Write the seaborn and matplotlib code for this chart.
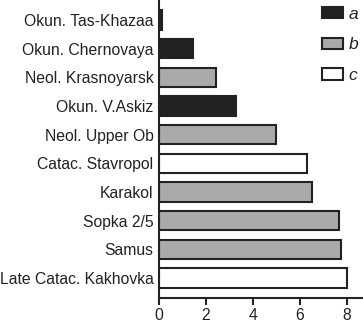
import pandas as pd
import matplotlib
matplotlib.use("Agg")
import matplotlib.pyplot as plt
import seaborn as sns
from matplotlib.patches import Patch

sites = ['Okun. Tas-Khazaa', 'Okun. Chernovaya', 'Neol. Krasnoyarsk',
         'Okun. V.Askiz', 'Neol. Upper Ob', 'Catac. Stavropol',
         'Karakol', 'Sopka 2/5', 'Samus', 'Late Catac. Kakhovka']
values = [0.13, 1.43, 2.42, 3.28, 5.0, 6.31, 6.5, 7.69, 7.77, 8.0]
groups = ['a', 'a', 'b', 'a', 'b', 'c', 'b', 'b', 'b', 'c']
group_names = ['a', 'b', 'c']
group_colors = {'a': '#222222', 'b': '#aaaaaa', 'c': '#ffffff'}
x_ticks = [0, 2, 4, 6, 8]

df = pd.DataFrame({'site': sites, 'value': values, 'group': groups})

sns.set_style('ticks')
plt.rcParams['font.family'] = ['Liberation Sans', 'DejaVu Sans']

fig = plt.figure(figsize=(3.63, 3.25), dpi=100)
ax = fig.add_axes([159 / 363, 27 / 325, (362 - 159) / 363, 298 / 325])

sns.barplot(data=df, x='value', y='site', hue='group', palette=group_colors,
            dodge=False, width=0.68, edgecolor='#222222', linewidth=1.5,
            legend=False, ax=ax)

ax.set_xlim(0, 8.65)
ax.set_ylim(9.7, -0.7)
ax.set_xticks(x_ticks)
ax.set_xlabel('')
ax.set_ylabel('')
ax.tick_params(axis='x', length=5, width=1.5, color='#222222', labelsize=11.3,
               pad=2, labelcolor='#222222')
ax.tick_params(axis='y', length=0, labelsize=11.3, pad=4, labelcolor='#222222')
for side in ['top', 'right']:
    ax.spines[side].set_visible(False)
for side in ['left', 'bottom']:
    ax.spines[side].set_linewidth(1.5)
    ax.spines[side].set_color('#222222')

handles = [Patch(facecolor=group_colors[g], edgecolor='#222222', linewidth=1.5)
           for g in group_names]
leg = fig.legend(handles, group_names, loc='upper left',
                 bbox_to_anchor=(313 / 363, 1 + 2 / 325), frameon=False,
                 borderpad=0, handlelength=1.2, handleheight=0.63,
                 handletextpad=0.35, labelspacing=0.9,
                 prop={'style': 'italic', 'size': 12.5})
for t in leg.get_texts():
    t.set_color('#222222')

fig.savefig('out.png', dpi=100)
